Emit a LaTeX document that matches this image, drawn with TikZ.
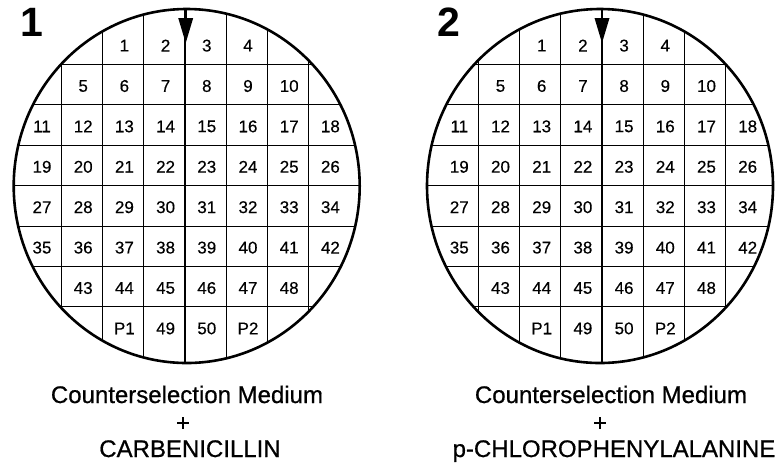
\documentclass[tikz,border=0pt]{standalone}
\usepackage{fontspec}
\setmainfont{Liberation Sans}
\newfontfamily\capfont{Liberation Sans}[FakeBold=0.7]
\newfontfamily\numfont{Liberation Sans}[FakeBold=0.3]
\newcommand\platepanel[5]{%
% #1 name, #2 circle centre x, #3 grid centre x, #4 arrow x, #5 title
\begin{scope}
  \clip (#2,186) ellipse [x radius=173, y radius=177];
  \foreach \k in {-3,-2,-1,1,2,3}{
    \draw[gridline] (#3+\k*41.2,0) -- (#3+\k*41.2,380);
    \draw[gridline] (0,185.5+\k*40.4) -- (800,185.5+\k*40.4);
  }
  \draw[midline] (#3,0) -- (#3,380);
  \draw[midline] (0,185.5) -- (800,185.5);
\end{scope}
\draw[rim] (#2,186) ellipse [x radius=173, y radius=177];
\coordinate (#1-arrtop) at (#4,8);
\coordinate (#1-arrbase) at (#4,19);
\draw[line width=2pt] (#1-arrtop) -- (#1-arrbase);
\fill (#4-7.5,18) -- (#4+7.5,18) -- (#4,43) -- cycle;
\node[title] (#1-title) at (#3-153,36) {#5};
\foreach \r/\clist in {0/{2/1,3/2,4/3,5/4},
  1/{1/5,2/6,3/7,4/8,5/9,6/10},
  2/{0/11,1/12,2/13,3/14,4/15,5/16,6/17,7/18},
  3/{0/19,1/20,2/21,3/22,4/23,5/24,6/25,7/26},
  4/{0/27,1/28,2/29,3/30,4/31,5/32,6/33,7/34},
  5/{0/35,1/36,2/37,3/38,4/39,5/40,6/41,7/42},
  6/{1/43,2/44,3/45,4/46,5/47,6/48},
  7/{2/P1,3/49,4/50,5/P2}}{
  \foreach \c/\t in \clist{
    \node[num] (#1-\t) at (#3+\c*41.2-144.2+1.5,185.5+\r*40.4-141.4+1.5) {\t};
  }
}
}
\begin{document}
\begin{tikzpicture}[x=1pt,y=-1pt,
  gridline/.style={line width=0.8pt},
  midline/.style={line width=1.6pt},
  rim/.style={line width=2.6pt},
  num/.style={font=\numfont\fontsize{17}{19}\selectfont, inner sep=0pt},
  title/.style={font=\fontsize{41}{44}\selectfont\bfseries, anchor=base, inner sep=0pt},
  caption/.style={font=\capfont\fontsize{24}{28}\selectfont, anchor=base, inner sep=0pt}]
\useasboundingbox (0,0) rectangle (778,467);
\platepanel{A}{186.7}{184.7}{185.7}{1}
\platepanel{B}{600}{602}{602}{2}
\node[caption] (A-med) at (187,403) {Counterselection Medium};
\node[caption] (A-plus) at (183,431) {+};
\node[caption] (A-drug) at (190,457) {CARBENICILLIN};
\node[caption] (B-med) at (611,403) {Counterselection Medium};
\node[caption] (B-plus) at (600,431) {+};
\node[caption] (B-drug) at (614,457) {p-CHLOROPHENYLALANINE};
\end{tikzpicture}
\end{document}
